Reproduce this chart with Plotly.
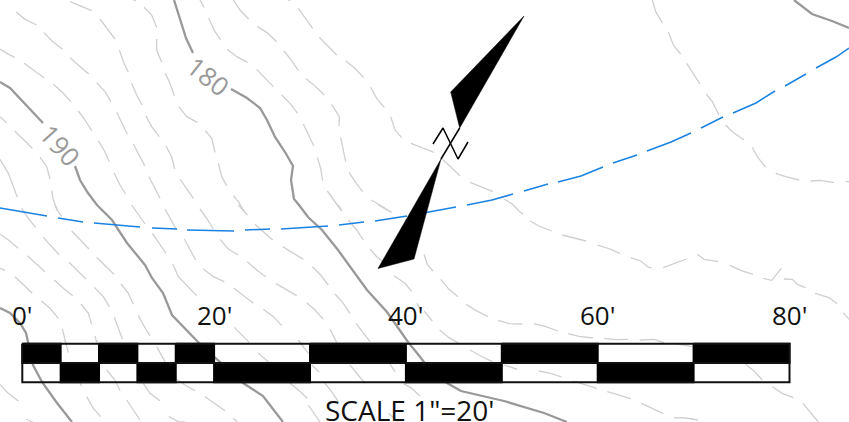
import plotly.graph_objects as go

W, H = 849, 422

# ---- survey map data, map units (1 unit = 1 sheet unit) ----
INDEX_CONTOURS = [
    [(174,0),(178,12),(182,25),(186,38),(193,53)],
    [(231,89),(247,98),(260,108),(267,120),(275,137),(285,152),(293,166),(291,180),(294,199),(299,205),(308,217),(322,230),(338,250),(367,290),(387,312),(408,342),(417,353),(424,362),(447,383),(461,391),(504,401),(544,413),(567,422)],
    [(0,82),(10,88),(43,123)],
    [(75,166),(80,180),(88,193),(97,205),(112,220),(127,243),(145,265),(152,278),(163,293),(172,315),(198,342),(243,383),(263,396),(283,422)],
    [(0,308),(10,313),(20,323),(26,333),(28,342),(33,365),(42,382),(57,403),(72,422)],
    [(794,0),(812,14),(832,21),(849,28)],
]

# intermediate contours, recorded per sheet panel (panel origin, then 1/3-unit readings)
PANEL_NW = (0, 0, [
    [(210,5),(275,32)],[(48,35),(75,58),(110,75)],[(132,98),(155,122),(187,147)],[(0,147),(20,160),(44,172)],
    [(300,57),(325,90),(345,117)],[(432,22),(455,45),(470,82)],[(470,117),(470,150),(485,187)],[(358,150),(372,190),(385,217)],
    [(210,173),(240,198),(266,222)],[(72,190),(100,210),(132,233)],[(160,253),(190,280),(212,305)],[(290,248),(315,275),(333,305)],
    [(395,250),(410,285),(426,315)],[(496,220),(510,250),(523,287)],[(537,320),(560,350),(592,367)],[(235,333),(255,360),(275,392)],
    [(350,337),(365,370),(382,403)],[(438,348),(455,380),(478,410)],[(616,392),(635,415),(645,457)],[(0,350),(20,368)],
    [(44,393),(70,420),(97,445)],[(295,422),(312,450),(328,485)],[(400,432),(418,465),(434,497)],[(498,438),(515,470),(524,507)],
    [(655,490),(665,530),(680,557)],[(120,472),(140,500),(150,537)],[(0,478),(25,520),(52,592)],[(342,518),(360,555),(377,582)],
    [(447,530),(465,565),(480,595)],[(540,537),(560,565),(580,595)],[(155,572),(160,600),(172,633)],[(700,587),(715,605),(732,633)],
    [(600,0),(612,22)],[(700,0),(720,30),(746,57)],[(895,25),(920,60),(938,85)],[(626,55),(645,95),(662,120)],
    [(772,80),(800,97),(830,125)],[(958,112),(985,140),(1010,165)],[(682,148),(710,170),(743,187)],[(852,153),(875,182),(895,212)],
    [(1037,183),(1065,205),(1091,233)],[(770,208),(795,235),(820,260)],[(918,236),(945,258),(973,285)],[(1112,262),(1130,295),(1153,322)],
    [(845,285),(870,310),(893,340)],[(995,313),(1018,350),(1017,378)],[(1172,350),(1185,390),(1205,413)],[(910,372),(925,405),(941,437)],
    [(1233,430),(1275,447)],[(1022,413),(1030,450),(1037,485)],[(952,472),(962,505),(968,542)],[(1047,517),(1065,545),(1088,575)],
    [(982,573),(1005,605),(1025,633)],[(1113,600),(1140,615),(1167,633)],[(400,0),(407,3)],[(865,0),(870,3)],
])
PANEL_NE = (424, 0, [
    [(685,0),(695,35),(715,68)],[(733,97),(748,135),(770,162)],[(788,190),(808,220),(828,252)],[(847,282),(865,305),(885,345)],
    [(905,375),(925,395),(960,420)],[(985,442),(1000,470),(1025,502)],[(1055,520),(1085,530),(1125,540)],[(1160,543),(1190,541),(1230,548)],
    [(1265,545),(1275,545)],[(30,457),(0,445)],[(55,478),(80,500),(108,528)],[(138,547),(170,560),(207,575)],[(240,597),(265,612),(285,633)],
])
PANEL_W = (0, 205, [
    [(65,10),(85,40),(107,68)],[(165,0),(175,20),(185,35)],[(0,87),(25,105),(55,130)],[(130,97),(155,125),(178,150)],
    [(215,78),(240,105),(267,132)],[(395,0),(415,30),(435,57)],[(495,12),(510,40),(530,75)],[(600,12),(620,40),(640,72)],
    [(457,85),(477,115),(498,145)],[(553,102),(570,135),(587,165)],[(82,152),(110,178),(135,200)],[(207,172),(235,198),(258,222)],
    [(290,157),(315,183),(342,208)],[(0,190),(15,196)],[(518,177),(535,215),(590,272)],[(45,215),(70,240),(97,265)],
    [(163,225),(190,250),(218,272)],[(283,247),(310,275),(328,305)],[(363,237),(385,265),(400,298)],[(124,288),(150,310),(175,340)],
    [(243,297),(265,325),(275,358)],[(415,332),(430,360),(450,392)],[(343,337),(355,370),(367,402)],[(187,372),(192,395),(197,412)],
    [(285,393),(290,412)],
])
PANEL_C = (200, 205, [
    [(115,0),(130,15),(142,30)],[(165,58),(190,80),(218,105)],[(60,103),(85,132),(115,150)],[(248,125),(280,145),(310,163)],
    [(142,170),(170,195),(197,215)],[(10,192),(40,215),(73,230)],[(337,185),(362,210),(385,240)],[(228,236),(260,255),(290,272)],
    [(102,250),(130,272),(160,295)],[(405,267),(430,295),(450,325)],[(320,293),(345,315),(370,343)],[(190,313),(220,335),(245,362)],
    [(103,367),(125,390),(147,412)],[(390,373),(400,395),(410,412)],[(468,355),(490,385),(510,410)],[(415,0),(425,15)],
    [(535,0),(575,22)],[(445,45),(470,75),(490,105)],[(510,132),(530,155),(550,170)],[(582,212),(615,235),(635,260)],[(650,295),(660,310)],
])
PANEL_SE = (424, 211, [
    [(285,0),(297,10)],[(318,30),(345,45),(383,60)],[(415,72),(450,80),(486,90)],[(520,102),(555,113),(588,127)],
    [(620,140),(650,150),(675,170),(683,170)],[(718,170),(750,158),(787,144)],[(820,130),(840,145),(883,152)],[(918,163),(950,178),(987,190)],
    [(1018,202),(1043,208),(1072,172)],[(1080,204),(1105,205),(1120,220),(1145,230)],[(1173,247),(1215,260),(1240,278)],[(1258,305),(1275,325)],
    [(0,130),(10,160),(27,180)],[(50,205),(75,235),(102,257)],[(127,280),(155,298),(192,317)],[(222,328),(255,338),(295,339)],
    [(330,338),(365,347),(402,360)],[(432,368),(465,376),(507,381)],[(540,382),(575,386),(613,385)],[(647,387),(690,385),(720,395)],
    [(750,397),(805,407)],[(0,300),(25,330)],[(47,357),(75,380),(105,397)],[(138,417),(170,435),(205,452)],[(240,462),(280,475)],
    [(345,480),(380,487),(413,498)],[(447,510),(480,520),(518,532)],[(550,542),(585,552),(620,563)],[(652,577),(685,593),(718,608)],
    [(750,620),(785,621),(822,627)],[(965,460),(990,480),(1015,507)],[(1045,527),(1075,547),(1108,560)],[(1137,577),(1160,605),(1183,633)],
])
PANEL_BL = (0, 340, [
    [(195,0),(205,38)],[(470,20),(495,65)],[(290,0),(292,8)],[(775,40),(805,65)],[(320,90),(345,120),(360,152)],
    [(0,133),(25,160),(55,183)],[(78,237),(105,250)],[(260,170),(280,205),(302,230)],[(380,180),(400,210),(420,240)],
    [(430,130),(450,160),(480,182)],[(530,118),(555,135),(585,152)],[(507,230),(535,245),(555,246)],[(615,170),(645,190),(675,212)],
    [(240,130),(245,138)],[(700,235),(712,246)],
])
PANEL_BC = (270, 340, [
    [(85,0),(115,40)],[(125,75),(148,97)],[(165,130),(185,155),(205,185)],[(240,75),(265,105),(285,130)],[(355,65),(375,95)],
    [(400,130),(425,145),(450,168)],[(60,130),(85,150),(112,175)],[(115,195),(135,225),(150,246)],[(355,220),(385,245)],
])
PANELS = [PANEL_NW, PANEL_NE, PANEL_W, PANEL_C, PANEL_SE, PANEL_BL, PANEL_BC]

# right-of-way centreline, recorded stroke by stroke
CENTERLINE = [
    [(0,208),(47,216)],[(58,218),(83,222)],[(94,223),(140,227)],[(152,228),(177,229)],[(187,230),(220,231),(234,231)],
    [(245,230),(270,229)],[(281,229),(328,226)],[(339,225),(364,222)],[(375,221),(407,216)],[(418,214),(456,207)],
    [(467,205),(492,200),(513,194)],[(524,191),(548,184)],[(558,182),(581,176),(603,167)],[(613,163),(637,155)],
    [(647,151),(671,142),(691,133)],[(701,128),(723,117)],[(733,113),(756,103),(775,91)],[(785,86),(806,74)],
    [(816,68),(836,57),(849,48)],
]

NORTH_UPPER = [(524,16),(450.7,92),(459.7,128)]
NORTH_LOWER = [(441,159),(378,268.5),(414,259)]
NORTH_STEM = [(459.7,128),(441,159)]
NORTH_BREAK = [(433,144),(443,128),(458,159),(468,142)]

CONTOUR_LABELS = ["180", "190"]
CONTOUR_LABEL_X = [208, 60]
CONTOUR_LABEL_Y = [76, 145]
CONTOUR_LABEL_ANGLE = [38, 48]

# graphic scale, in feet
SCALE_TICKS = [0, 20, 40, 60, 80]
SCALE_TICK_TEXT = ["0'", "20'", "40'", "60'", "80'"]
ROW1_BLACK = [(0,4),(8,12),(16,20),(30,40),(50,60),(70,80)]
ROW2_BLACK = [(4,8),(12,16),(20,30),(40,50),(60,70)]
ROW_Y = [343.8, 363.0, 382.3]
SCALE_TITLE = 'SCALE 1"=20\''

FT0_PX, PX_PER_FT = 22.3, 9.59
INK = "#000000"
FONT = "Open Sans"


def flatten(lines):
    xs, ys = [], []
    for ln in lines:
        for x, y in ln:
            xs.append(x)
            ys.append(y)
        xs.append(None)
        ys.append(None)
    return xs, ys


def rects(cells, y0, y1):
    xs, ys = [], []
    for a, b in cells:
        xs += [a, b, b, a, a, None]
        ys += [y0, y0, y1, y1, y0, None]
    return xs, ys


dash_lines = []
for ox, oy, lines in PANELS:
    for ln in lines:
        dash_lines.append([(ox + x / 3, oy + y / 3) for x, y in ln])

fig = go.Figure()

x, y = flatten(dash_lines)
fig.add_trace(go.Scatter(x=x, y=y, mode="lines", line=dict(color="#cfcfcf", width=1.3), hoverinfo="skip"))
x, y = flatten(INDEX_CONTOURS)
fig.add_trace(go.Scatter(x=x, y=y, mode="lines", line=dict(color="#999999", width=2.3), hoverinfo="skip"))
x, y = flatten(CENTERLINE)
fig.add_trace(go.Scatter(x=x, y=y, mode="lines", line=dict(color="#1a82e2", width=1.5), hoverinfo="skip"))

x, y = flatten([NORTH_UPPER + NORTH_UPPER[:1], NORTH_LOWER + NORTH_LOWER[:1]])
fig.add_trace(go.Scatter(x=x, y=y, mode="lines", fill="toself", fillcolor=INK, line=dict(color=INK, width=0.5), hoverinfo="skip"))
x, y = flatten([NORTH_STEM, NORTH_BREAK])
fig.add_trace(go.Scatter(x=x, y=y, mode="lines", line=dict(color=INK, width=1.5), hoverinfo="skip"))

# scale bar, on a second axis in feet
for cells, y0, y1 in [(ROW1_BLACK, ROW_Y[0], ROW_Y[1]), (ROW2_BLACK, ROW_Y[1], ROW_Y[2])]:
    x, y = rects(cells, y0, y1)
    fig.add_trace(go.Scatter(x=x, y=y, xaxis="x2", mode="lines", fill="toself", fillcolor=INK,
                             line=dict(color=INK, width=2), hoverinfo="skip"))
x, y = rects([(SCALE_TICKS[0], SCALE_TICKS[-1])], ROW_Y[0], ROW_Y[2])
x += [SCALE_TICKS[0], SCALE_TICKS[-1], None]
y += [ROW_Y[1], ROW_Y[1], None]
fig.add_trace(go.Scatter(x=x, y=y, xaxis="x2", mode="lines", line=dict(color="#111111", width=2), hoverinfo="skip"))

annotations = []
for t, lx, ly, ang in zip(CONTOUR_LABELS, CONTOUR_LABEL_X, CONTOUR_LABEL_Y, CONTOUR_LABEL_ANGLE):
    annotations.append(dict(x=lx, y=ly, xref="x", yref="y", text=t, textangle=ang, showarrow=False,
                            font=dict(family=FONT, size=26, color="#999999")))
for tick, label in zip(SCALE_TICKS, SCALE_TICK_TEXT):
    annotations.append(dict(x=tick, y=315, xref="x2", yref="y", text=label, showarrow=False,
                            font=dict(family=FONT, size=26, color="#111111")))
annotations.append(dict(x=40.4, y=410, xref="x2", yref="y", text=SCALE_TITLE, showarrow=False,
                        font=dict(family=FONT, size=28, color="#111111")))

fig.update_layout(
    width=W, height=H, margin=dict(l=0, r=0, t=0, b=0), showlegend=False,
    paper_bgcolor="white", plot_bgcolor="white", annotations=annotations,
    xaxis=dict(range=[0, W], visible=False, fixedrange=True),
    xaxis2=dict(range=[-FT0_PX / PX_PER_FT, (W - FT0_PX) / PX_PER_FT], overlaying="x", visible=False, fixedrange=True),
    yaxis=dict(range=[H, 0], visible=False, fixedrange=True),
)
fig.write_html("out.html", config={"displayModeBar": False},
               post_script="document.body.style.margin='0';document.documentElement.style.overflow='hidden';")
